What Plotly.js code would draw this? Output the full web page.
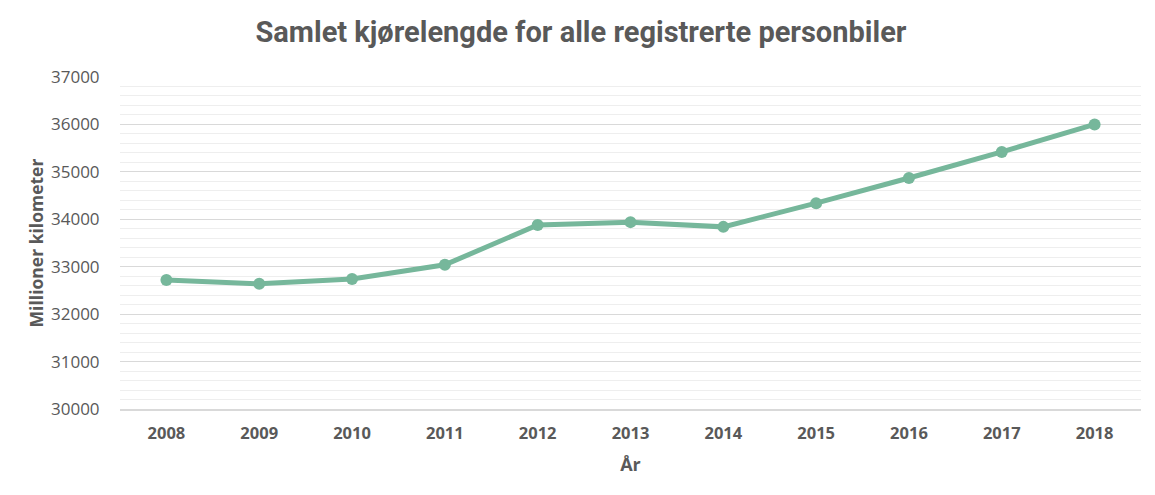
<!DOCTYPE html>
<html>
<head>
<meta charset="utf-8">
<script src="https://cdn.plot.ly/plotly-3.0.1.min.js"></script>
<style>html,body{margin:0;padding:0;background:#fff;}#chart{width:1155px;height:495px;}</style>
</head>
<body>
<div id="chart"></div>
<script>
const years = ['2008','2009','2010','2011','2012','2013','2014','2015','2016','2017','2018'];
const kilometers = [32720, 32640, 32740, 33040, 33880, 33940, 33840, 34340, 34870, 35420, 36000];
const yTicks = [30000, 31000, 32000, 33000, 34000, 35000, 36000, 37000];

const trace = {
  x: years,
  y: kilometers,
  type: 'scatter',
  mode: 'lines+markers',
  line: {color: '#76b79b', width: 5},
  marker: {color: '#76b79b', size: 12},
  hoverinfo: 'x+y'
};

const layout = {
  width: 1155,
  height: 495,
  margin: {l: 120, r: 14, t: 77, b: 86},
  paper_bgcolor: '#ffffff',
  plot_bgcolor: '#ffffff',
  showlegend: false,
  font: {family: '"Open Sans", sans-serif', color: '#595959'},
  title: {
    text: '<b>Samlet kjørelengde for alle registrerte personbiler</b>',
    font: {family: 'Roboto, sans-serif', size: 29, color: '#595959'},
    x: 0.503, xanchor: 'center', y: 0.935, yanchor: 'middle'
  },
  xaxis: {
    type: 'category',
    range: [-0.5, 10.5],
    tickvals: years,
    ticktext: years.map(y => '<b>' + y + '</b>'),
    tickfont: {size: 16.5, color: '#595959'},
    showgrid: false,
    showline: true,
    linecolor: '#d9d9d9',
    linewidth: 1.5,
    ticks: 'outside',
    ticklen: 9,
    tickcolor: 'rgba(0,0,0,0)',
    title: {text: '<b>År</b>', font: {size: 18, color: '#595959'}, standoff: 15},
    fixedrange: true
  },
  yaxis: {
    range: [30000, 37000],
    tickvals: yTicks,
    tickformat: 'd',
    tickfont: {size: 17, color: '#595959'},
    showgrid: true,
    gridcolor: '#d9d9d9',
    gridwidth: 1,
    minor: {dtick: 200, showgrid: true, gridcolor: '#eeeeee', gridwidth: 1},
    zeroline: false,
    ticks: 'outside',
    ticklen: 16,
    tickcolor: 'rgba(0,0,0,0)',
    title: {text: '<b>Millioner kilometer</b>', font: {size: 17.5, color: '#595959'}, standoff: 2},
    fixedrange: true
  }
};

Plotly.newPlot('chart', [trace], layout, {displayModeBar: false, staticPlot: true});
</script>
</body>
</html>
